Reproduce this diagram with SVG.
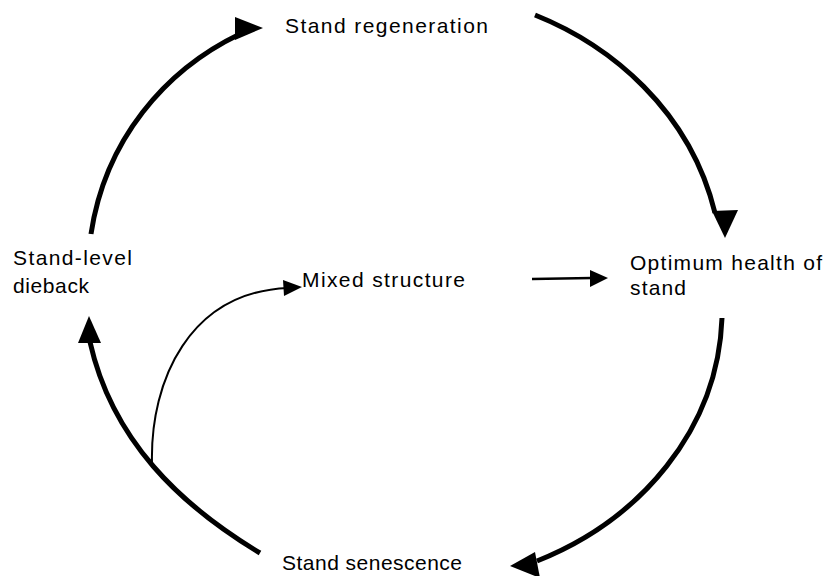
<svg xmlns="http://www.w3.org/2000/svg" width="832" height="576" viewBox="0 0 832 576">
<style>
.lbl{font-family:"Liberation Sans",Arial,sans-serif;font-size:21px;fill:#000}
.arc{fill:none;stroke:#000;stroke-width:5;stroke-linecap:butt}
.thin{fill:none;stroke:#000;stroke-width:2}
.mid{fill:none;stroke:#000;stroke-width:2.6}
.head{fill:#000;stroke:none}
</style>
<rect width="832" height="576" fill="#fff"/>
<g id="connectors">
<path class="arc" d="M91,234 C105,140 165,70 240,34"/>
<polygon class="head" points="235,17 263,28 235,40"/>
<path class="arc" d="M535,15 C610,45 690,110 715,213"/>
<polygon class="head" points="712,211 738,210 725,238"/>
<path class="arc" d="M722,318 C718,430 640,520 537,561"/>
<polygon class="head" points="510,566 535,552 540,578"/>
<path class="arc" d="M260,553 C180,505 112,440 90,342"/>
<polygon class="head" points="89,316 78,343 101,343"/>
<path class="thin" d="M152,463 C150,380 190,292 288,288"/>
<polygon class="head" points="283,280 302,287 284,296"/>
<path class="mid" d="M532,279 L592,278"/>
<polygon class="head" points="590,270 608,278 590,287"/>
</g>
<g id="stand-regeneration"><text class="lbl" x="285" y="33" textLength="203" lengthAdjust="spacing">Stand regeneration</text></g>
<g id="optimum-health"><text class="lbl" x="630" y="270" textLength="192" lengthAdjust="spacing">Optimum health of</text><text class="lbl" x="630" y="295" textLength="56" lengthAdjust="spacing">stand</text></g>
<g id="stand-senescence"><text class="lbl" x="282" y="570" textLength="180" lengthAdjust="spacing">Stand senescence</text></g>
<g id="stand-level-dieback"><text class="lbl" x="13" y="265" textLength="119" lengthAdjust="spacing">Stand-level</text><text class="lbl" x="13" y="293" textLength="76" lengthAdjust="spacing">dieback</text></g>
<g id="mixed-structure"><text class="lbl" x="302" y="287" textLength="163" lengthAdjust="spacing">Mixed structure</text></g>
</svg>
